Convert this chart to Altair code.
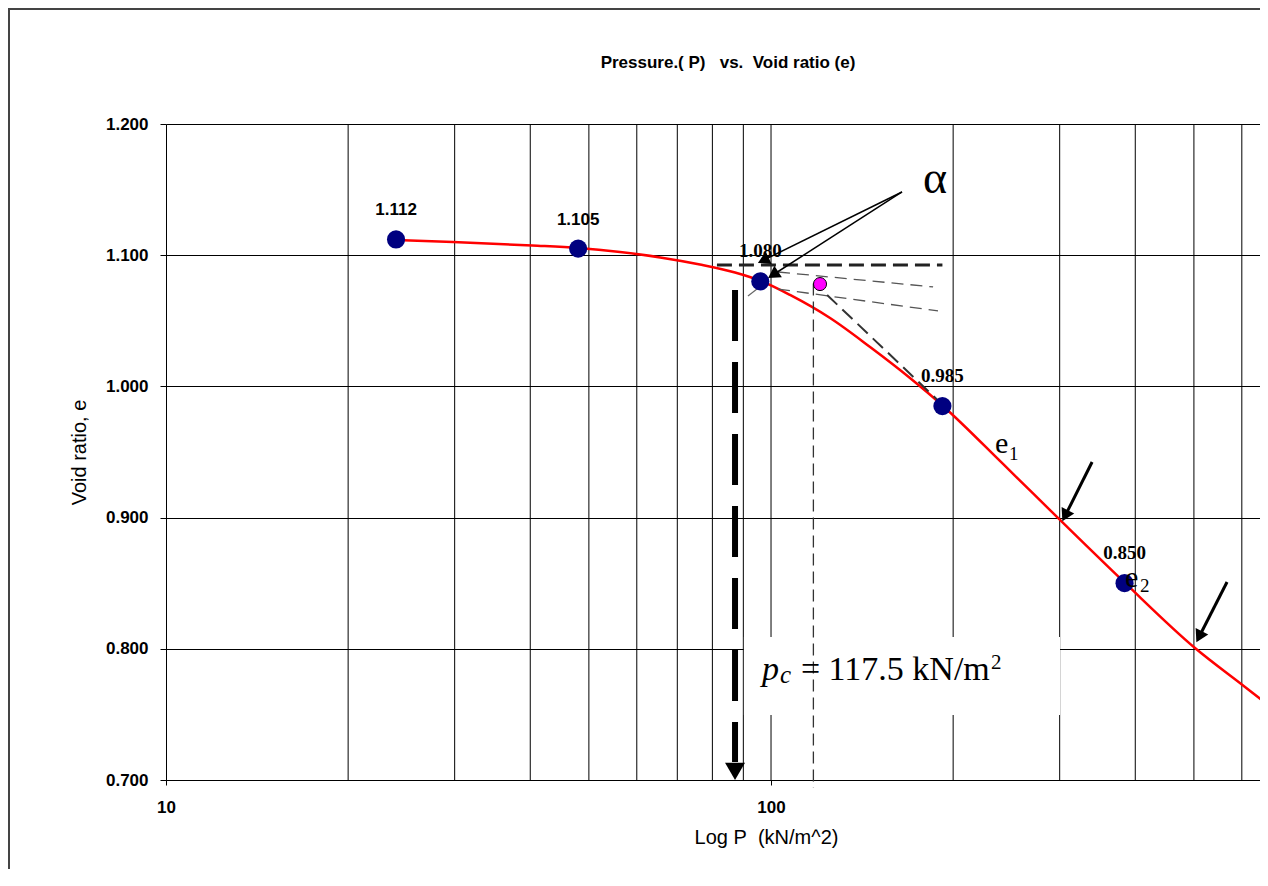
import altair as alt
import pandas as pd

SANS = "Liberation Sans"
SERIF = "Liberation Serif"

# ---- data ----
P_points = [24, 48, 96, 192, 384]
e_points = [1.112, 1.105, 1.080, 0.985, 0.850]
point_labels = ["1.112", "1.105", "1.080", "0.985", "0.850"]
label_style = ["sans", "sans", "serif", "serif", "serif"]

curve_P = [24.0, 29.8, 40.3, 48.0, 56.3, 65.6, 76.3, 87.2, 96.3, 107.5, 125.2, 145.8,
           169.7, 192.4, 241.8, 302.7, 384.7, 502.1, 607.4, 662.9]
curve_e = [1.1116, 1.1101, 1.1074, 1.1055, 1.1024, 1.0983, 1.0929, 1.0868, 1.0803, 1.0697,
           1.0521, 1.0300, 1.0064, 0.9851, 0.9409, 0.8967, 0.8502, 0.8006, 0.7709, 0.7572]

grid_P = [20, 30, 40, 50, 60, 70, 80, 90, 100, 200, 300, 400, 500, 600]
y_ticks = [0.7, 0.8, 0.9, 1.0, 1.1, 1.2]
x_labels = [10, 100]

magenta_P = [120.5]
magenta_e = [1.078]

pc_value = 117.5

# construction lines (data units)
thick_h = dict(x=[81.4], y=[1.0925], x2=[192], y2=[1.0925])
thin_lines = dict(x=[102.7, 102.7], y=[1.0872, 1.0742], x2=[185.3, 188.8], y2=[1.0758, 1.0575])
steep_line = dict(x=[123.8], y=[1.0697], x2=[195.4], y2=[0.9828])
pc_line = dict(x=[pc_value], y=[1.0785], x2=[pc_value], y2=[0.694])
thick_v = dict(x=[87.2], y=[1.0735], x2=[87.2], y2=[0.7137])
small_seg = dict(x=[91.6], y=[1.0689], x2=[94.8], y2=[1.0742])
alpha_arrows = dict(x=[164.6, 164.6], y=[1.1482, 1.1482], x2=[97.1, 100.8], y2=[1.0961, 1.0851])
black_arrows = dict(x=[339.4, 567.2], y=[0.9424, 0.8509], x2=[306.3, 510.1], y2=[0.9014, 0.8092])
alpha_heads = dict(x=[97.1, 100.8], y=[1.0961, 1.0851], ang=[244, 237])
black_heads = dict(x=[306.3, 510.1], y=[0.9014, 0.8092], ang=[207, 207])
down_head = dict(x=[87.2], y=[0.7066])

box = dict(x=[90.2], y=[0.809], x2=[300.4], y2=[0.7495])

W, H = 1094, 656

XSCALE = alt.Scale(type="log", domain=[10, 643], nice=False)
YSCALE = alt.Scale(domain=[0.7, 1.2], nice=False, zero=False)

XAXIS = alt.Axis(values=x_labels, format="d", grid=False, tickSize=5, tickColor="black",
                 domainColor="black", labelFont=SANS, labelFontSize=17, labelFontWeight="bold",
                 labelColor="black", labelPadding=14, labelFlush=False, labelOverlap=False,
                 title="Log P\u00a0 (kN/m^2)", titleFont=SANS, titleFontSize=20,
                 titleFontWeight="normal", titleColor="black", titlePadding=12, titleX=600)
YAXIS = alt.Axis(values=y_ticks, format=".3f", grid=True, gridColor="black", gridWidth=1,
                 gridOpacity=1, tickSize=6, tickColor="black", domainColor="black",
                 labelFont=SANS, labelFontSize=17, labelFontWeight="bold", labelColor="black",
                 labelPadding=12, labelFlush=False, labelOverlap=False,
                 title="Void ratio, e", titleFont=SANS, titleFontSize=20,
                 titleFontWeight="normal", titleColor="black", titlePadding=16)


def X(f):
    return alt.X(f, type="quantitative", scale=XSCALE, axis=XAXIS)


def Y(f):
    return alt.Y(f, type="quantitative", scale=YSCALE, axis=YAXIS)


def segs(d, **mk):
    return alt.Chart(pd.DataFrame(d)).mark_rule(**mk).encode(
        x=X("x"), y=Y("y"), x2="x2:Q", y2="y2:Q")


vgrid = alt.Chart(pd.DataFrame({"gx": grid_P})).mark_rule(color="black", strokeWidth=1).encode(x=X("gx"))

textbox = alt.Chart(pd.DataFrame(box)).mark_rect(color="white").encode(
    x=X("x"), y=Y("y"), x2="x2:Q", y2="y2:Q")

curve = alt.Chart(pd.DataFrame({"P": curve_P, "e": curve_e})).mark_line(
    color="#FF0000", strokeWidth=2.5, interpolate="monotone", clip=True).encode(x=X("P"), y=Y("e"))

l_thick_h = segs(thick_h, color="#222", strokeWidth=3, strokeDash=[15, 7])
l_thin = segs(thin_lines, color="#555", strokeWidth=1.3, strokeDash=[12, 7])
l_steep = segs(steep_line, color="#333", strokeWidth=2, strokeDash=[14, 7])
l_pc = segs(pc_line, color="#333", strokeWidth=1.3, strokeDash=[12, 6])
l_thick_v = segs(thick_v, color="black", strokeWidth=6, strokeDash=[51, 21])
l_small = segs(small_seg, color="#666", strokeWidth=1.2)
l_alpha = segs(alpha_arrows, color="black", strokeWidth=1.5)
l_black = segs(black_arrows, color="black", strokeWidth=3)

h_alpha = alt.Chart(pd.DataFrame(alpha_heads)).mark_point(
    shape="triangle-up", filled=True, color="black", opacity=1, size=190).encode(
    x=X("x"), y=Y("y"), angle=alt.Angle("ang:Q", scale=None))
h_black = alt.Chart(pd.DataFrame(black_heads)).mark_point(
    shape="triangle-up", filled=True, color="black", opacity=1, size=200).encode(
    x=X("x"), y=Y("y"), angle=alt.Angle("ang:Q", scale=None))
h_down = alt.Chart(pd.DataFrame(down_head)).mark_point(
    shape="triangle-down", filled=True, color="black", opacity=1, size=400).encode(
    x=X("x"), y=Y("y"))

pts = pd.DataFrame({"P": P_points, "e": e_points, "label": point_labels, "style": label_style})
points = alt.Chart(pts).mark_point(shape="circle", filled=True, color="#000080", opacity=1,
                                   size=330).encode(x=X("P"), y=Y("e"))
magenta = alt.Chart(pd.DataFrame({"P": magenta_P, "e": magenta_e})).mark_point(
    shape="circle", filled=True, fill="#FF00FF", stroke="black", strokeWidth=1, opacity=1,
    size=170).encode(x=X("P"), y=Y("e"))

lab_sans = alt.Chart(pts).transform_filter(alt.datum.style == "sans").mark_text(
    font=SANS, fontSize=17, fontWeight="bold", color="black", dy=-29).encode(
    x=X("P"), y=Y("e"), text="label:N")
lab_serif = alt.Chart(pts).transform_filter(alt.datum.style == "serif").mark_text(
    font=SERIF, fontSize=19, fontWeight="bold", color="black", dy=-30).encode(
    x=X("P"), y=Y("e"), text="label:N")


# annotation texts
def txt(P, e, t, **mk):
    return alt.Chart(pd.DataFrame({"P": [P], "e": [e], "t": [t]})).mark_text(
        baseline="alphabetic", color="black", **mk).encode(x=X("P"), y=Y("e"), text="t:N")


alpha_txt = txt(186.7, 1.1474, "α", font=SERIF, fontSize=46, align="center")
e1_a = txt(234.5, 0.9492, "e", font=SERIF, fontSize=30, align="left")
e1_b = txt(234.5, 0.9492, "1", font=SERIF, fontSize=19, align="left", dx=14, dy=7)
e2_a = txt(384.7, 0.8471, "e", font=SERIF, fontSize=30, align="left")
e2_b = txt(384.7, 0.8471, "2", font=SERIF, fontSize=19, align="left", dx=15, dy=5)
pc_a = txt(96.6, 0.7762, "p", font=SERIF, fontSize=34, fontStyle="italic", align="left")
pc_b = txt(96.6, 0.7762, "c", font=SERIF, fontSize=25, fontStyle="italic", align="left", dx=18, dy=3)
pc_c = txt(96.6, 0.7762, "= 117.5 kN/m", font=SERIF, fontSize=34, align="left", dx=39)
pc_d = txt(96.6, 0.7762, "2", font=SERIF, fontSize=21, align="left", dx=229, dy=-11)

# outer frame of the figure
frame_top = alt.Chart(pts).mark_rule(color="#444", strokeWidth=2).encode(
    x=alt.value(-158), x2=alt.value(W), y=alt.value(-115))
frame_left = alt.Chart(pts).mark_rule(color="#444", strokeWidth=2).encode(
    x=alt.value(-157), y=alt.value(-115), y2=alt.value(745))

chart = alt.layer(
    vgrid, textbox, curve,
    l_thick_h, l_thin, l_steep, l_pc, l_thick_v, l_small, l_alpha, l_black,
    points, magenta, h_alpha, h_black, h_down,
    lab_sans, lab_serif, alpha_txt, e1_a, e1_b, e2_a, e2_b, pc_a, pc_b, pc_c, pc_d,
    frame_top, frame_left,
).properties(
    width=W, height=H,
    autosize=alt.AutoSizeParams(type="none"),
    padding={"left": 158, "top": 116, "right": 0, "bottom": 90},
    title=alt.TitleParams("Pressure.( P)\u00a0\u00a0 vs.\u00a0 Void ratio (e)", font=SANS,
                          fontSize=17, fontWeight="bold", color="black", anchor="middle",
                          frame="group", baseline="alphabetic", offset=-77, dx=15),
).configure_view(strokeWidth=0).configure(background="white")

chart.save("out.html", embed_options={"renderer": "svg", "actions": False})
